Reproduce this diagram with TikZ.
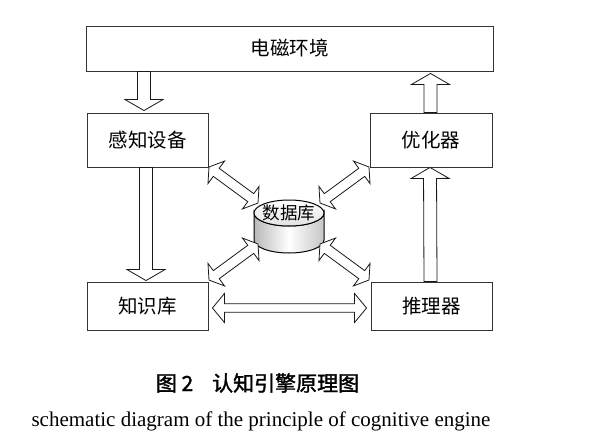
\documentclass[tikz,border=0pt]{standalone}
\usepackage{fontspec}
\setmainfont{Liberation Serif}
\newfontfamily\cjk{Noto Sans CJK SC}
\newfontfamily\cjkcap[FakeBold=1.6]{Noto Sans CJK SC}
\usetikzlibrary{calc}
\tikzset{
  bsw/.store in=\bsw, bhw/.store in=\bhw, bhl/.store in=\bhl,
  bsw=5pt, bhw=13pt, bhl=8pt,
  box/.style={draw=black!80, line width=0.9pt, fill=white, inner sep=0pt,
    font=\cjk\fontsize{19.5}{21}\selectfont},
  blk/.style={draw=black!90, fill=white, line width=0.8pt, line join=miter},
  sgl/.style={blk, to path={let \p1=(\tikztostart), \p2=(\tikztotarget),
      \n1={atan2(\y2-\y1,\x2-\x1)} in
      ($(\p1)+(\n1+90:\bsw)$)
      -- ($(\p2)+(\n1+180:\bhl)+(\n1+90:\bsw)$)
      -- ($(\p2)+(\n1+180:\bhl)+(\n1+90:\bhw)$)
      -- (\p2)
      -- ($(\p2)+(\n1+180:\bhl)+(\n1-90:\bhw)$)
      -- ($(\p2)+(\n1+180:\bhl)+(\n1-90:\bsw)$)
      -- ($(\p1)+(\n1-90:\bsw)$) -- cycle}},
  dbl/.style={blk, to path={let \p1=(\tikztostart), \p2=(\tikztotarget),
      \n1={atan2(\y2-\y1,\x2-\x1)} in
      (\p1)
      -- ($(\p1)+(\n1:\bhl)+(\n1+90:\bhw)$)
      -- ($(\p1)+(\n1:\bhl)+(\n1+90:\bsw)$)
      -- ($(\p2)+(\n1+180:\bhl)+(\n1+90:\bsw)$)
      -- ($(\p2)+(\n1+180:\bhl)+(\n1+90:\bhw)$)
      -- (\p2)
      -- ($(\p2)+(\n1+180:\bhl)+(\n1-90:\bhw)$)
      -- ($(\p2)+(\n1+180:\bhl)+(\n1-90:\bsw)$)
      -- ($(\p1)+(\n1:\bhl)+(\n1-90:\bsw)$)
      -- ($(\p1)+(\n1:\bhl)+(\n1-90:\bhw)$) -- cycle}},
  vert/.style={bsw=6.5pt, bhw=19pt, bhl=11pt},
  horiz/.style={bsw=4.3pt, bhw=14.5pt, bhl=12pt},
  diag/.style={bsw=5pt, bhw=14pt, bhl=9pt}
}
\begin{document}
\begin{tikzpicture}[x=1pt,y=-1pt]
\useasboundingbox[fill=white] (0,0) rectangle (590,437);

% boxes
\node[box, minimum width=407pt, minimum height=45pt] (env) at (289.5,48.5) {电磁环境};
\node[box, minimum width=121pt, minimum height=54pt] (sense) at (147.5,140) {感知设备};
\node[box, minimum width=122pt, minimum height=54pt] (opt) at (431,140) {优化器};
\node[box, minimum width=121pt, minimum height=48pt] (kb) at (147.5,306) {知识库};
\node[box, minimum width=121pt, minimum height=48pt] (inf) at (431.5,306) {推理器};

% database cylinder
\shade[left color=gray!55, right color=gray!45, middle color=white, draw=black, line width=1pt]
  (254,213) -- (254,240) arc[start angle=180, end angle=0, x radius=35, y radius=13]
  -- (324,213) arc[start angle=0, end angle=180, x radius=35, y radius=13] -- cycle;
\shade[top color=white, bottom color=gray!22, draw=black, line width=1pt]
  (289,213) ellipse[x radius=35, y radius=13];
\node[font=\cjk\fontsize{17.5}{19}\selectfont, inner sep=0pt] (db) at (289,213) {数据库};

% vertical block arrows
\draw[sgl, vert] ([xshift=-3.5pt]sense.north |- env.south) to ([xshift=-3.5pt,yshift=2pt]sense.north);
\draw[sgl, vert] ([xshift=-1.5pt]sense.south) to ([xshift=-1.5pt,yshift=1pt]kb.north);
\draw[sgl, vert] ([xshift=-1pt]inf.north) to ([xshift=-1pt]opt.south);
\draw[sgl, vert] ([xshift=-0.5pt]opt.north) to ([xshift=-0.5pt,yshift=-2pt]opt.north |- env.south);

% horizontal double arrow
\draw[dbl, horiz] ([xshift=4pt,yshift=-2pt]kb.east) to ([xshift=-4pt,yshift=-2pt]inf.west);

% diagonal double arrows
\coordinate (tl1) at (209,167); \coordinate (tl2) at (258,203);
\coordinate (tr1) at (369,167); \coordinate (tr2) at (320,203);
\coordinate (bl1) at (258,244); \coordinate (bl2) at (209,280);
\coordinate (br1) at (320,244); \coordinate (br2) at (369,280);
\draw[dbl, diag] (tl1) to (tl2);
\draw[dbl, diag] (tr1) to (tr2);
\draw[dbl, diag] (bl1) to (bl2);
\draw[dbl, diag] (br1) to (br2);

% captions
\node[font=\cjkcap\fontsize{21}{24}\selectfont, inner sep=0pt] (cap1) at (257.5,383) {图 2\hspace{0.9em}认知引擎原理图};
\node[font=\fontsize{21}{24}\selectfont, inner sep=0pt] (cap2) at (261,421) {schematic diagram of the principle of cognitive engine};
\end{tikzpicture}
\end{document}
